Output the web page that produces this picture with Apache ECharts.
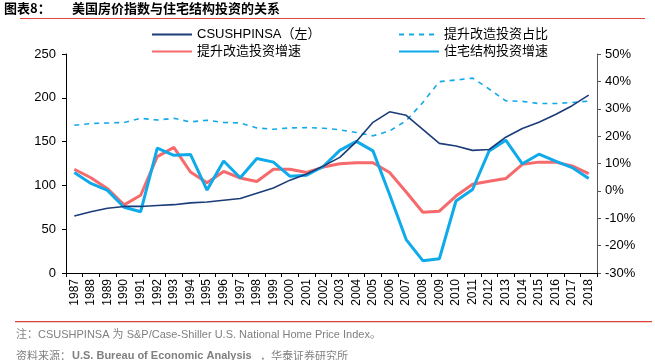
<!DOCTYPE html>
<html><head><meta charset="utf-8">
<script src="https://cdn.jsdelivr.net/npm/echarts@6/dist/echarts.min.js"></script>
<style>html,body{margin:0;padding:0;background:#fff}#c{width:655px;height:360px}</style>
</head><body><div id="c"></div>
<script>
var years = ['1987','1988','1989','1990','1991','1992','1993','1994','1995','1996','1997','1998','1999','2000','2001','2002','2003','2004','2005','2006','2007','2008','2009','2010','2011','2012','2013','2014','2015','2016','2017','2018'];
var csIndex = [65,70,74,76,76,77,78,80,81,83,85,91,97,106,113,122,132,150,172,184,180,164,148,145,140,141,155,165,172,181,191,203];
var remodelShare = [24.0,24.6,24.8,25.0,26.5,25.9,26.5,25.2,25.8,25.0,24.8,23.0,22.5,23.0,23.1,22.9,22.3,21.3,20.1,21.9,25.6,32.3,39.9,40.5,41.2,37.2,32.9,32.7,31.9,31.9,32.3,32.8];
var remodelGrowth = [7.9,4.8,0.8,-5.1,-1.6,12.5,15.9,6.9,3.0,7.1,4.7,3.4,7.9,7.9,6.7,8.7,9.9,10.3,10.3,6.7,-0.4,-7.8,-7.4,-1.9,2.4,3.5,4.5,9.7,10.5,10.5,9.1,6.3];
var structGrowth = [6.7,2.7,0.2,-6.0,-7.6,15.6,13.0,13.3,0.3,10.9,4.8,11.8,10.5,5.3,5.7,8.9,14.8,18.1,14.6,-1.3,-17.8,-25.5,-24.8,-3.7,0.5,14.6,18.5,9.9,13.4,10.9,8.5,4.5];
var leftTicks = {min:0,max:250,interval:50};
var rightTicks = {min:-30,max:50,interval:10};

var chart = echarts.init(document.getElementById('c'));
var cjk = '"Liberation Sans","Noto Sans CJK SC",Arial,sans-serif';
var legendBase = {
  orient:'vertical', itemGap:4, itemWidth:40, itemHeight:12, top:23,
  textStyle:{fontSize:13,color:'#000',fontFamily:cjk},
  itemStyle:{opacity:0},
  lineStyle:{opacity:1}
};
chart.setOption({
  animation:false,
  textStyle:{fontFamily:cjk},
  grid:{left:66,right:58,top:54,bottom:87,containLabel:false},
  legend:[
    Object.assign({}, legendBase, {left:146, data:['CSUSHPINSA（左）','提升改造投资增速']}),
    Object.assign({}, legendBase, {left:393, data:['提升改造投资占比','住宅结构投资增速']})
  ],
  xAxis:{
    type:'category', data:years, boundaryGap:true,
    axisLine:{lineStyle:{color:'#000',width:1}},
    axisTick:{show:true,length:4,lineStyle:{color:'#000'}},
    axisLabel:{rotate:90,interval:0,fontSize:12,color:'#000',margin:6}
  },
  yAxis:[{
    type:'value', min:leftTicks.min, max:leftTicks.max, interval:leftTicks.interval,
    splitLine:{show:false},
    axisLine:{show:true,lineStyle:{color:'#000'}},
    axisTick:{show:true,length:4,lineStyle:{color:'#000'}},
    axisLabel:{fontSize:13,color:'#000',margin:10}
  },{
    type:'value', position:'right', min:rightTicks.min, max:rightTicks.max, interval:rightTicks.interval,
    splitLine:{show:false},
    axisLine:{show:true,lineStyle:{color:'#555'}},
    axisTick:{show:true,length:4,lineStyle:{color:'#555'}},
    axisLabel:{fontSize:13,color:'#000',margin:8,formatter:'{value}%'}
  }],
  series:[{
    name:'CSUSHPINSA（左）', type:'line', yAxisIndex:0, data:csIndex,
    symbol:'none', lineStyle:{color:'#1B3C78',width:1.6}, itemStyle:{color:'#1B3C78'}, z:5
  },{
    name:'提升改造投资占比', type:'line', yAxisIndex:1, data:remodelShare,
    symbol:'none', lineStyle:{color:'#12A9E8',width:1.6,type:[5,5]}, itemStyle:{color:'#12A9E8'}
  },{
    name:'提升改造投资增速', type:'line', yAxisIndex:1, data:remodelGrowth,
    symbol:'none', lineStyle:{color:'#F66A6C',width:3}, itemStyle:{color:'#F66A6C'}
  },{
    name:'住宅结构投资增速', type:'line', yAxisIndex:1, data:structGrowth,
    symbol:'none', lineStyle:{color:'#0FAAEA',width:3}, itemStyle:{color:'#0FAAEA'}
  }],
  graphic:[
    {type:'text', left:4, top:2, style:{text:'图表8：', font:'bold 13px "Noto Sans CJK SC",sans-serif', fill:'#000'}},
    {type:'text', left:72, top:2, style:{text:'美国房价指数与住宅结构投资的关系', font:'bold 13px "Noto Sans CJK SC",sans-serif', fill:'#000'}},
    {type:'rect', shape:{x:20,y:18,width:625,height:1}, style:{fill:'#E2473F'}},
    {type:'rect', shape:{x:15,y:321,width:637,height:1.2}, style:{fill:'#D8433A'}},
    {type:'text', left:16, top:329, style:{text:'注：CSUSHPINSA 为 S&P/Case-Shiller U.S. National Home Price Index。', font:'11px "Liberation Sans","Noto Sans CJK SC",sans-serif', fill:'#808080'}},
    {type:'text', left:16, top:350, style:{text:'资料来源：', font:'11px "Noto Sans CJK SC",sans-serif', fill:'#808080'}},
    {type:'text', left:72, top:350, style:{text:'U.S. Bureau of Economic Analysis', font:'bold 11px "Liberation Sans",sans-serif', fill:'#808080'}},
    {type:'text', left:260, top:350, style:{text:'，华泰证券研究所', font:'11px "Noto Sans CJK SC",sans-serif', fill:'#808080'}}
  ]
});
</script></body></html>
